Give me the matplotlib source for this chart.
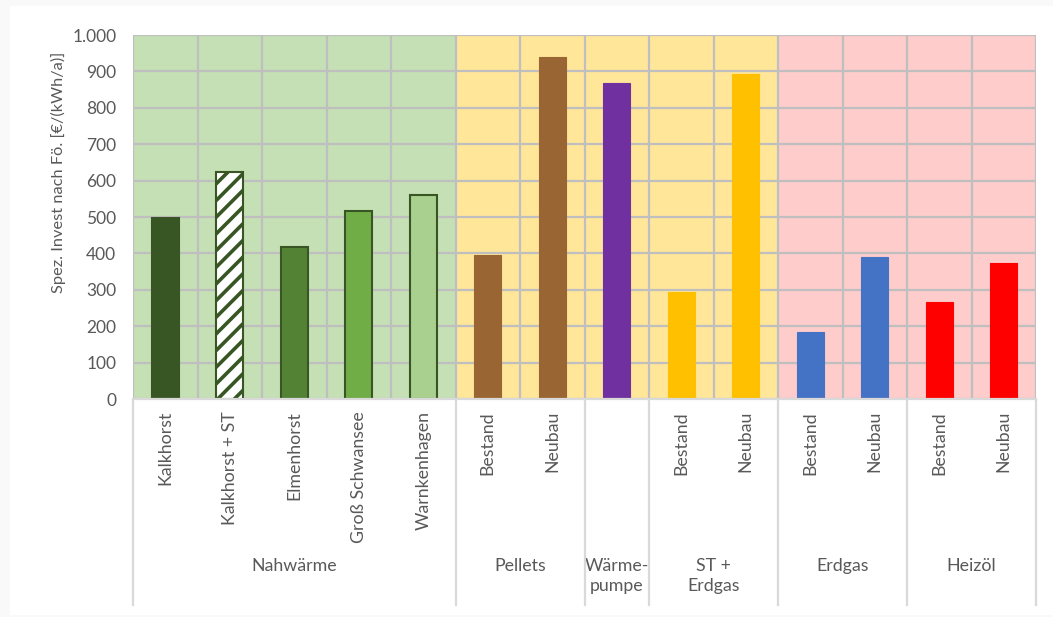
import matplotlib
matplotlib.use("Agg")
import matplotlib.pyplot as plt
from matplotlib.lines import Line2D
from matplotlib.patches import Rectangle
from matplotlib.transforms import blended_transform_factory

plt.rcParams['font.family'] = ['Lato', 'DejaVu Sans']
plt.rcParams['hatch.linewidth'] = 2.6

# Data
labels = ["Kalkhorst", "Kalkhorst + ST", "Elmenhorst", "Groß Schwansee", "Warnkenhagen",
          "Bestand", "Neubau", "", "Bestand", "Neubau",
          "Bestand", "Neubau", "Bestand", "Neubau"]
values = [496, 624, 418, 517, 560,
          396, 939, 867, 294, 894,
          184, 389, 266, 373]
groups = ["Nahwärme", "Pellets", "Wärme-\npumpe", "ST +\nErdgas", "Erdgas", "Heizöl"]
group_sizes = [5, 2, 1, 2, 2, 2]
yticks = [0, 100, 200, 300, 400, 500, 600, 700, 800, 900, 1000]
ytick_labels = ["0", "100", "200", "300", "400", "500", "600", "700", "800", "900", "1.000"]

bar_colors = ["#375623", "white", "#548235", "#70AD47", "#A9D08E",
              "#996633", "#996633", "#7030A0", "#FFC000", "#FFC000",
              "#4472C4", "#4472C4", "#FF0000", "#FF0000"]
edge_colors = ["#375623"] * 5 + bar_colors[5:]
hatches = [None, "//", None, None, None] + [None] * 9

# Background zones: (first index, last index, colour)
zones = [(0, 4, "#C5E0B4"), (5, 9, "#FFE699"), (10, 13, "#FFCCCC")]

W, H = 1053, 617
fig = plt.figure(figsize=(W / 100, H / 100), dpi=100)
fig.patch.set_facecolor("#F9F9F9")
fig.add_artist(Rectangle((10 / W, 1 - 615 / H), 1 - 10 / W, (615 - 6) / H,
                         transform=fig.transFigure, facecolor="white", lw=0, zorder=0))
left, right, top, bottom = 133, 1036, 35, 399
ax = fig.add_axes([left / W, 1 - bottom / H, (right - left) / W, (bottom - top) / H])

n = len(values)
ax.set_xlim(-0.5, n - 0.5)
ax.set_ylim(0, 1000)

for a, b, c in zones:
    ax.axvspan(a - 0.5, b + 0.5, color=c, zorder=0, lw=0)

grid_c = "#BFBFBF"
for y in yticks:
    ax.axhline(y, color=grid_c, lw=1.6, zorder=1)
for i in range(n + 1):
    ax.axvline(i - 0.5, color=grid_c, lw=1.6, zorder=1)

x = list(range(n))
for i in x:
    ax.bar(i, values[i], width=0.42, color=bar_colors[i], edgecolor=edge_colors[i],
           linewidth=1.5 if i < 5 else 0.8, hatch=hatches[i], zorder=3)

for s in ax.spines.values():
    s.set_visible(False)

ax.set_yticks(yticks)
ax.set_yticklabels(ytick_labels)
ax.tick_params(axis="y", length=0, pad=12, labelsize=12.5, labelcolor="#595959")
ax.set_xticks([])

# Axis title
fig.text(58 / W, 1 - 172 / H, "Spez. Invest nach Fö. [€/(kWh/a)]", rotation=90,
         ha="center", va="center", fontsize=11.8, color="#595959")

trans = blended_transform_factory(ax.transData, fig.transFigure)

# Category labels
for i, lab in enumerate(labels):
    if lab:
        ax.text(i, 1 - 411 / H, lab, transform=trans, rotation=90, ha="center", va="top",
                fontsize=12.8, color="#595959")

# Group labels and separators
sep_c = "#D9D9D9"
pos = 0
bounds = [-0.5]
for g, size in zip(groups, group_sizes):
    center = pos + (size - 1) / 2
    ax.text(center, 1 - 558 / H, g, transform=trans, ha="center", va="top",
            fontsize=12.8, color="#595959", linespacing=1.3)
    pos += size
    bounds.append(pos - 0.5)
for b in bounds:
    fig.add_artist(Line2D([b, b], [1 - bottom / H, 1 - 605 / H], transform=trans,
                          color=sep_c, lw=1.6))
ax.plot([-0.5, n - 0.5], [0, 0], color=sep_c, lw=1.6, zorder=4, clip_on=False)

fig.savefig("out.png", dpi=100, facecolor=fig.get_facecolor())
